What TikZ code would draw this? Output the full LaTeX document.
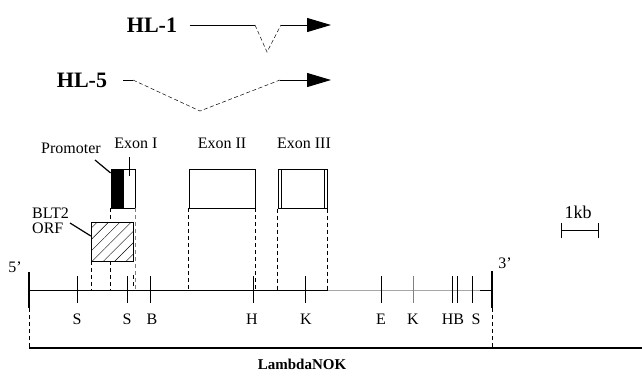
\documentclass[tikz,border=0pt]{standalone}
\usepackage{fontspec}
\setmainfont{Liberation Serif}
\usetikzlibrary{patterns.meta,arrows.meta}
\tikzset{
  lbl/.style={inner sep=0pt, font=\fontsize{16}{16}\selectfont},
  big/.style={inner sep=0pt, font=\fontsize{22}{22}\selectfont\bfseries},
  boxx/.style={draw, inner sep=0pt, minimum height=39pt, line width=0.7pt},
  dsh/.style={dashed, dash pattern=on 4pt off 3pt, line width=0.6pt},
  tr/.style={line width=1pt},
  trd/.style={dashed, dash pattern=on 4pt off 2.5pt, line width=0.5pt},
  arr/.style={-{Triangle[length=24pt,width=14pt]}, line width=1pt},
}
\begin{document}
\begin{tikzpicture}[x=1pt,y=-1pt]
\useasboundingbox (0,0) rectangle (642,376);
% transcripts
\node[big] (hl1) at (152,25) {HL-1};
\node[big] (hl5) at (82,80) {HL-5};
\coordinate (a1) at (190,25);
\coordinate (a2) at (255,25);
\coordinate (a3) at (267,52);
\coordinate (a4) at (281,25);
\coordinate (a5) at (331,25);
\draw[tr] (a1) -- (a2);
\draw[trd] (a2) -- (a3) -- (a4);
\draw[arr] (a4) -- (a5);
\coordinate (b1) at (123,80);
\coordinate (b2) at (133,80);
\coordinate (b3) at (200,111);
\coordinate (b4) at (280,80);
\coordinate (b5) at (331,80);
\draw[tr] (b1) -- (b2);
\draw[trd] (b2) -- (b3) -- (b4);
\draw[arr] (b4) -- (b5);
% exon boxes
\node[boxx, minimum width=24pt, line width=0.5pt] (ex1) at (123,188.5) {};
\node[boxx, fill=black, minimum width=12pt] (prom) at (117,188.5) {};
\node[boxx, minimum width=66pt] (ex2) at (222,188.5) {};
\node[boxx, minimum width=49pt, line width=1pt] (ex3) at (302.5,188.5) {};
\draw[line width=0.8pt] (281,169) -- (281,208) (324,169) -- (324,208);
\node[boxx, minimum width=42pt, line width=0.5pt,
      pattern={Lines[angle=45,distance=8pt,line width=0.4pt]}] (orf) at (112,241.5) {};
\draw[line width=1.2pt] (orf.south west) -- (orf.south east);
% labels
\node[lbl] (lprom) at (71,148) {Promoter};
\node[lbl] (lex1) at (136,143) {Exon I};
\node[lbl] (lex2) at (222,143) {Exon II};
\node[lbl] (lex3) at (304,143) {Exon III};
\node[lbl, anchor=west] (lblt) at (32,213) {BLT2};
\node[lbl, anchor=west] (lorf) at (32,228) {ORF};
\coordinate (pl) at (95,160);
\coordinate (ol) at (70,223);
\draw[line width=1.2pt] (pl) -- (prom.north west |- 0,173);
\draw[line width=1.2pt] (ol) -- (orf.west |- 0,236);
\draw[line width=0.8pt] (129,157) -- (129,176);
% main line
\coordinate (m5) at (29,290);
\coordinate (m3) at (492,290);
\draw[line width=0.7pt] (m5) -- (328,290);
\draw[line width=0.8pt, gray!70] (328,290) -- (480,290);
\draw[line width=0.8pt] (480,290) -- (m3);
\draw[line width=1.4pt] (29,272) -- (29,308);
\draw[line width=1.4pt] (492,271) -- (492,308);
\node[lbl] (l5) at (15,267) {5’};
\node[lbl] (l3) at (505,263) {3’};
% dashed projections
\draw[dsh] (prom.south west) -- (orf.north west -| prom.south west);
\draw[dsh] (orf.south west) -- (orf.south west |- m5);
\draw[dsh] (prom.south west |- orf.south) -- (prom.south west |- m5);
\draw[dsh, gray] (ex1.south east) -- (ex1.south east |- m5);
\draw[dsh] (133,275) -- (133,288);
\draw[dsh] (ex2.south west) -- (ex2.south west |- m5);
\draw[dsh] (ex2.south east) -- (ex2.south east |- m5);
\draw[dsh] (ex3.south west) -- (ex3.south west |- m5);
\draw[dsh] (ex3.south east) -- (ex3.south east |- m5);
% restriction sites
\foreach \x/\c in {77/black,127/black,150/black,253/black,305/black,381/black,413/gray,452/black,457/black,472/black}
  \draw[line width=0.6pt, \c] (\x,276) -- (\x,303);
\foreach \x/\l in {77/S,127/S,152/B,252/H,306/K,381/E,413/K,453/HB,476/S}
  \node[lbl] at (\x,319) {\l};
% lambda clone
\draw[dsh] (29,308) -- (29,348);
\draw[dsh] (492,308) -- (492,348);
\coordinate (n1) at (29,348);
\coordinate (n2) at (642,348);
\draw[line width=1.3pt] (n1) -- (n2);
\node[lbl, font=\fontsize{15}{15}\selectfont\bfseries] (lnok) at (302,364) {LambdaNOK};
% scale bar
\coordinate (s1) at (561,230);
\coordinate (s2) at (598,230);
\draw[line width=0.8pt] (s1) -- (s2);
\draw[line width=0.8pt] (561,223) -- (561,238) (598,223) -- (598,238);
\node[lbl, font=\fontsize{18}{18}\selectfont] (lkb) at (578,212) {1kb};
\end{tikzpicture}
\end{document}
